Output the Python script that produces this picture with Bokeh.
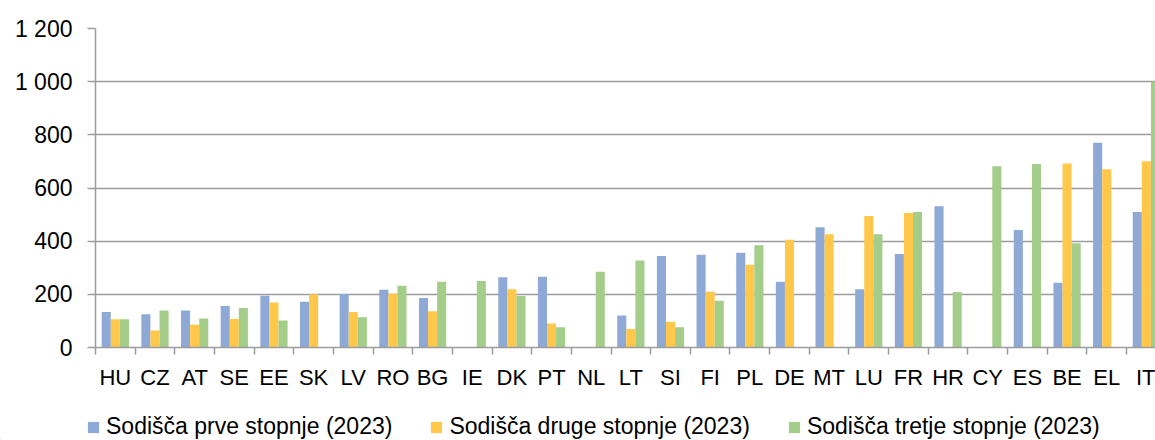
from bokeh.plotting import figure
from bokeh.models import (Range1d, FixedTicker, Legend, LegendItem, ColumnDataSource)
from bokeh.embed import file_html
from bokeh.resources import INLINE
import math

countries = ["HU", "CZ", "AT", "SE", "EE", "SK", "LV", "RO", "BG", "IE", "DK", "PT", "NL", "LT",
             "SI", "FI", "PL", "DE", "MT", "LU", "FR", "HR", "CY", "ES", "BE", "EL", "IT"]
NaN = float("nan")
prve = [134, 125, 139, 156, 195, 172, 201, 217, 186, NaN, 264, 266, NaN, 120,
        344, 349, 356, 247, 452, 219, 352, 531, NaN, 442, 244, 770, 510]
druge = [106, 64, 86, 107, 169, 200, 134, 202, 136, NaN, 219, 90, NaN, 70,
         97, 210, 311, 405, 426, 495, 506, NaN, NaN, NaN, 692, 671, 701]
tretje = [106, 139, 109, 149, 102, NaN, 114, 232, 247, 250, 194, 76, 285, 327,
          76, 176, 385, NaN, NaN, 426, 510, 209, 682, 690, 392, NaN, 1000]
series_names = ["Sodišča prve stopnje (2023)", "Sodišča druge stopnje (2023)",
                "Sodišča tretje stopnje (2023)"]
colors = ["#8FA9D6", "#FFC84B", "#A3CD89"]
y_ticks = [0, 200, 400, 600, 800, 1000, 1200]
y_labels = ["0", "200", "400", "600", "800", "1 000", "1 200"]

FONT = "Liberation Sans"
GRID = "#9c9c9c"

p = figure(width=1155, height=400, output_backend="svg", toolbar_location=None,
           x_range=Range1d(0, 26.73), y_range=Range1d(0, 1200),
           min_border_left=95, min_border_right=0, min_border_top=28, min_border_bottom=53)
p.outline_line_color = None
p.background_fill_color = "white"

bw = 0.229
offsets = [-bw, 0.0, bw]
for vals, off, col in zip([prve, druge, tretje], offsets, colors):
    xs = [i + 0.5 + off for i, v in enumerate(vals) if not math.isnan(v)]
    tops = [v for v in vals if not math.isnan(v)]
    src = ColumnDataSource(dict(x=xs, top=tops))
    p.vbar(x="x", top="top", bottom=0, width=bw, source=src,
           fill_color=col, line_color=None)

# x axis: labels at centres, tick marks at category boundaries
centers = [i + 0.5 for i in range(len(countries))]
bounds = [float(i) for i in range(len(countries) + 1)]
p.xaxis.ticker = FixedTicker(ticks=centers, minor_ticks=bounds)
p.xaxis.major_label_overrides = {c: lab for c, lab in zip(centers, countries)}
p.xaxis.major_tick_line_color = None
p.xaxis.major_tick_out = 0
p.xaxis.major_tick_in = 0
p.xaxis.minor_tick_line_color = GRID
p.xaxis.minor_tick_line_width = 1.5
p.xaxis.minor_tick_out = 7
p.xaxis.minor_tick_in = 0
p.xaxis.axis_line_color = GRID
p.xaxis.axis_line_width = 1.5
p.xaxis.major_label_text_font = FONT
p.xaxis.major_label_text_font_size = "22px"
p.xaxis.major_label_text_color = "#000000"
p.xaxis.major_label_standoff = 10
p.xgrid.grid_line_color = None

p.yaxis.ticker = FixedTicker(ticks=y_ticks)
p.yaxis.major_label_overrides = {t: lab for t, lab in zip(y_ticks, y_labels)}
p.yaxis.axis_line_color = GRID
p.yaxis.axis_line_width = 1.5
p.yaxis.major_tick_line_color = GRID
p.yaxis.major_tick_line_width = 1.5
p.yaxis.major_tick_out = 8
p.yaxis.major_tick_in = 0
p.yaxis.minor_tick_line_color = None
p.yaxis.major_label_text_font = FONT
p.yaxis.major_label_text_font_size = "23px"
p.yaxis.major_label_text_color = "#000000"
p.yaxis.major_label_standoff = 15
p.ygrid.grid_line_color = GRID
p.ygrid.grid_line_width = 1.5

# legend strip below the chart (no axes, frame = whole strip)
lg = figure(width=1155, height=40, output_backend="svg", toolbar_location=None,
            x_axis_type=None, y_axis_type=None,
            x_range=Range1d(0, 1155), y_range=Range1d(0, 40),
            min_border=0, min_border_left=0, min_border_right=0,
            min_border_top=0, min_border_bottom=0)
lg.grid.visible = False
lg.outline_line_color = None
leg_renderers = [lg.vbar(x=[-5000], top=[1], width=1, fill_color=c, line_color=None)
                 for c in colors]
legend = Legend(items=[LegendItem(label=n, renderers=[r]) for n, r in zip(series_names, leg_renderers)],
                location=(86, 0), orientation="horizontal")
legend.padding = 0
legend.margin = 0
legend.spacing = 37
legend.glyph_width = 14
legend.glyph_height = 14
legend.label_standoff = 6
legend.label_text_font = FONT
legend.label_text_font_size = "23px"
legend.label_text_color = "#000000"
legend.border_line_color = None
legend.background_fill_alpha = 0
lg.add_layout(legend, "center")

open("out.html", "w").write(file_html([p, lg], INLINE))
